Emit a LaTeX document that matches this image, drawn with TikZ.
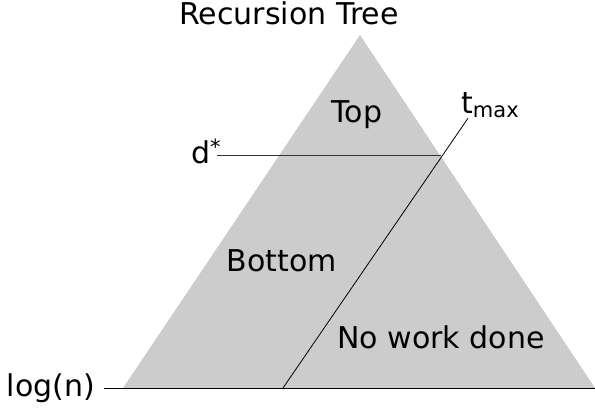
\documentclass[tikz,border=0pt]{standalone}
\usepackage{fontspec}
\setmainfont{DejaVu Sans}
\usetikzlibrary{arrows,positioning}

\begin{document}
\begin{tikzpicture}[x=1pt,y=-1pt,
    every node/.style={inner sep=0pt,font=\fontsize{30}{36}\selectfont},
    treefill/.style={fill=black!20}]
    \useasboundingbox (0,0) rectangle (595,409);
    \coordinate (apex) at (360,35);
    \coordinate (left) at (123,388);
    \coordinate (right) at (595,388);
    \coordinate (cross) at (441,156);
    \coordinate (tlow) at (283,388);
    
    \fill[treefill] (left) -- (apex) -- (right) -- cycle;
    
    \node[anchor=base] (title) at (289,25) {Recursion Tree};
    \node[anchor=base] (top) at (357,123) {Top};
    \node[anchor=base] (bottom) at (282,271) {Bottom};
    \node[anchor=base] (nowork) at (441,348) {No work done};
    \node[anchor=base west] (dstar) at (191,164) {d\textsuperscript{*}};
    \node[anchor=base west] (tmax) at (461,114) {t\textsubscript{max}};
    \node[anchor=east,outer xsep=9pt] (logn) at (104,388) {log(n)};
    
    \draw[-,black!80,line width=1pt] ([xshift=-4pt]dstar.east |- cross) to (cross);
    \draw[-,line width=0.8pt] (tlow) to ([xshift=7pt]tmax.south west);
    \draw[-,line width=1pt] (logn.east) to (right);
\end{tikzpicture}
\end{document}
